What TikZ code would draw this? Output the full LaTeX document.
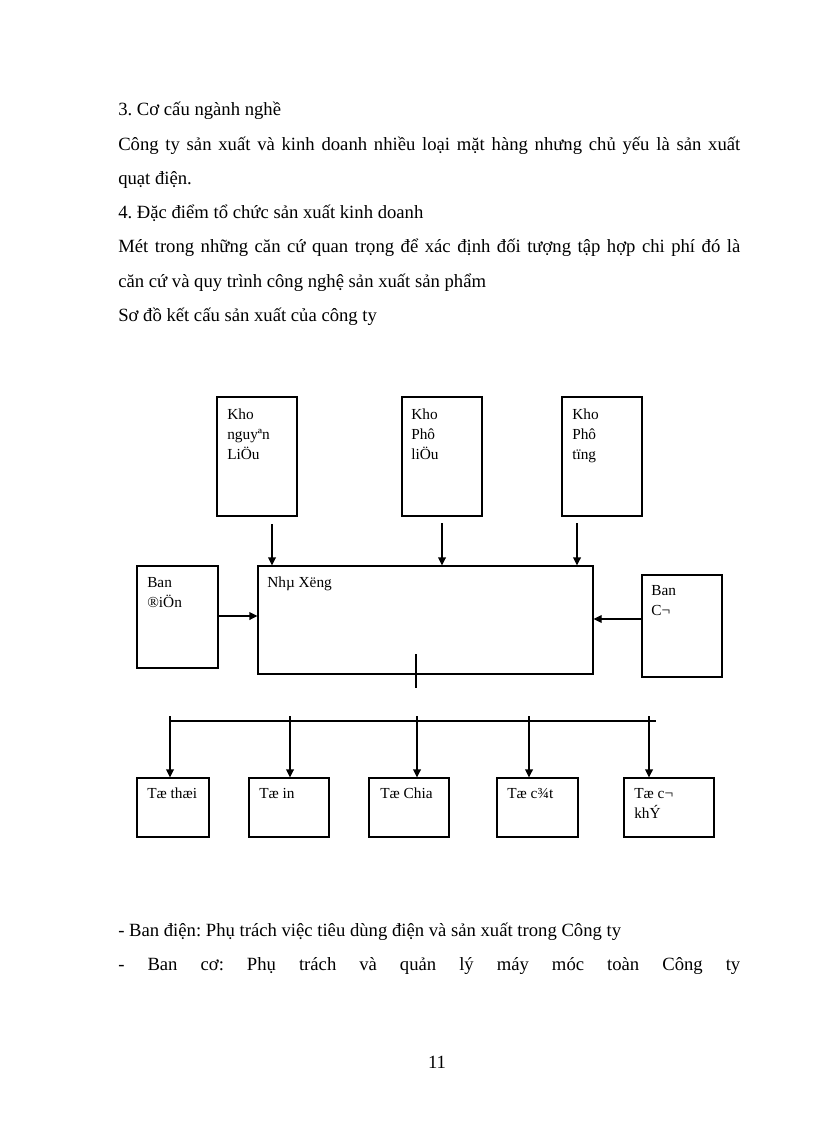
\documentclass[tikz,border=0pt]{standalone}
\usepackage{fontspec}
\setmainfont{Liberation Serif}
\usetikzlibrary{arrows.meta,fit}
\frenchspacing
\begin{document}
\begin{tikzpicture}[x=0.75pt,y=-0.75pt,
  bx/.style={draw, line width=0.8pt, inner sep=0pt},
  bt/.style={anchor=base west, inner sep=0pt, font=\fontsize{11.5}{15}\selectfont},
  tx/.style={anchor=base west, inner sep=0pt, font=\fontsize{14}{16}\selectfont},
  arr/.style={line width=0.8pt, -{Triangle[length=6pt,width=5.8pt]}},
  ln/.style={line width=0.8pt}]
\useasboundingbox[fill=white] (0,0) rectangle (816,1123);
% body text
\node[tx] (p1) at (118,116) {3. Cơ cấu ngành nghề};
\node[tx] (p2) at (118,150.2) {\makebox[466.5pt][s]{Công ty sản xuất và kinh doanh nhiều loại mặt hàng nhưng chủ yếu là sản xuất}};
\node[tx] (p3) at (118,184.4) {quạt điện.};
\node[tx] (p4) at (118,218.6) {4. Đặc điểm tổ chức sản xuất kinh doanh};
\node[tx] (p5) at (118,252.8) {\makebox[466.5pt][s]{Mét trong những căn cứ quan trọng để xác định đối tượng tập hợp chi phí đó là}};
\node[tx] (p6) at (118,287) {căn cứ và quy trình công nghệ sản xuất sản phẩm};
\node[tx] (p7) at (118,321.2) {Sơ đồ kết cấu sản xuất của công ty};
\node[tx] (p8) at (118,936) {- Ban điện: Phụ trách việc tiêu dùng điện và sản xuất trong Công ty};
\node[tx] (p9) at (118,970.5) {\makebox[466.5pt][s]{- Ban cơ: Phụ trách và quản lý máy móc toàn Công ty}};
\node[tx, anchor=base] (pg) at (437,1068) {11};
% boxes
\node[bx, fit={(217,397) (297,516)}] (knl) {};
\node[bx, fit={(402,397) (482,516)}] (kpl) {};
\node[bx, fit={(562,397) (642,516)}] (kpt) {};
\node[bx, fit={(137,566) (218,668)}] (bd) {};
\node[bx, fit={(258,566) (593,674)}] (nx) {};
\node[bx, fit={(642,575) (722,677)}] (bc) {};
\node[bx, fit={(137,778) (209,837)}] (t1) {};
\node[bx, fit={(249,778) (329,837)}] (t2) {};
\node[bx, fit={(369,778) (449,837)}] (t3) {};
\node[bx, fit={(497,778) (578,837)}] (t4) {};
\node[bx, fit={(624,778) (714,837)}] (t5) {};
% box texts
\node[bt] (knlt) at (227,419) {\parbox[t]{50pt}{\raggedright Kho\\nguyªn\\LiÖu}};
\node[bt] (kplt) at (411,419) {\parbox[t]{50pt}{\raggedright Kho\\Phô\\liÖu}};
\node[bt] (kptt) at (572,419) {\parbox[t]{50pt}{\raggedright Kho\\Phô\\tïng}};
\node[bt] (bdt) at (147,587) {\parbox[t]{50pt}{\raggedright Ban\\®iÖn}};
\node[bt] (nxt) at (267,587) {Nhµ Xëng};
\node[bt] (bct) at (651,595) {\parbox[t]{50pt}{\raggedright Ban\\C¬}};
\node[bt] (t1t) at (147,798) {Tæ thæi};
\node[bt] (t2t) at (259,798) {Tæ in};
\node[bt] (t3t) at (380,798) {Tæ Chia};
\node[bt] (t4t) at (507,798) {Tæ c¾t};
\node[bt] (t5t) at (634,798) {\parbox[t]{60pt}{\raggedright Tæ c¬\\khÝ}};
% arrows into workshop
\coordinate (a1) at (272,524);
\coordinate (a2) at (442,523);
\coordinate (a3) at (577,523);
\draw[arr] (a1) -- (a1 |- nx.north);
\draw[arr] (a2) -- (a2 |- nx.north);
\draw[arr] (a3) -- (a3 |- nx.north);
\draw[arr] (bd.east |- 0,616) -- (nx.west |- 0,616);
\draw[arr] (bc.west |- 0,619) -- (nx.east |- 0,619);
% tick below workshop
\coordinate (k1) at (416,654);
\coordinate (k2) at (416,688);
\draw[ln] (k1) -- (k2);
% bus
\coordinate (busL) at (169,721);
\coordinate (busR) at (656,721);
\draw[ln] (busL) -- (busR);
\coordinate (d1) at (170,716);
\coordinate (d2) at (290,716);
\coordinate (d3) at (417,716);
\coordinate (d4) at (529,716);
\coordinate (d5) at (649,716);
\draw[arr] (d1) -- (d1 |- t1.north);
\draw[arr] (d2) -- (d2 |- t2.north);
\draw[arr] (d3) -- (d3 |- t3.north);
\draw[arr] (d4) -- (d4 |- t4.north);
\draw[arr] (d5) -- (d5 |- t5.north);
\end{tikzpicture}
\end{document}
